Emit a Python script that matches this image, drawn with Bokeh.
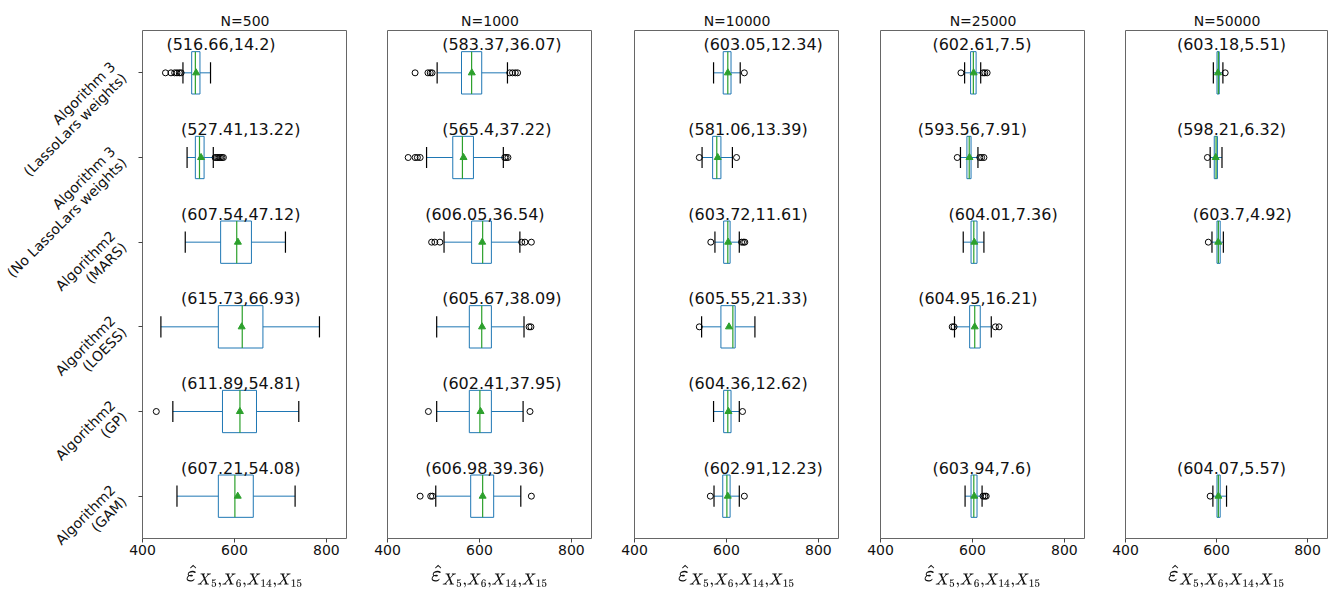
import math
from bokeh.plotting import figure
from bokeh.layouts import row
from bokeh.models import ColumnDataSource, Range1d, FixedTicker
from bokeh.embed import file_html
from bokeh.resources import INLINE
from bokeh.core.properties import value

# ---------------- data ----------------
categories = [
    "Algorithm 3\n(LassoLars weights)",
    "Algorithm 3\n(No LassoLars weights)",
    "Algorithm2\n(MARS)",
    "Algorithm2\n(LOESS)",
    "Algorithm2\n(GP)",
    "Algorithm2\n(GAM)",
]
sample_sizes = [500, 1000, 10000, 25000, 50000]
x_ticks = [400, 600, 800]

means = [
    [516.66, 527.41, 607.54, 615.73, 611.89, 607.21],
    [583.37, 565.4, 606.05, 605.67, 602.41, 606.98],
    [603.05, 581.06, 603.72, 605.55, 604.36, 602.91],
    [602.61, 593.56, 604.01, 604.95, None, 603.94],
    [603.18, 598.21, 603.7, None, None, 604.07],
]
stds = [
    [14.2, 13.22, 47.12, 66.93, 54.81, 54.08],
    [36.07, 37.22, 36.54, 38.09, 37.95, 39.36],
    [12.34, 13.39, 11.61, 21.33, 12.62, 12.23],
    [7.5, 7.91, 7.36, 16.21, None, 7.6],
    [5.51, 6.32, 4.92, None, None, 5.57],
]
whisker_low = [
    [488, 497, 493, 440, 466, 475],
    [508, 485, 523, 507, 507, 505],
    [572, 547, 575, 546, 572, 573],
    [583, 574, 580, 561, None, 584],
    [593, 586, 590, None, None, 592],
]
q1 = [
    [507, 515, 570, 565, 574, 565],
    [561, 542, 583, 578, 578, 581],
    [593, 570, 594, 588, 594, 592],
    [596, 588, 597, 594, None, 597],
    [601, 595, 601, None, None, 601],
]
median = [
    [515, 524, 605, 617, 612, 601],
    [583, 563, 607, 605, 601, 607],
    [603, 579, 603, 614, 603, 601],
    [602, 593, 603, 605, None, 603],
    [604, 599, 604, None, None, 604],
]
q3 = [
    [525, 534, 637, 662, 648, 641],
    [605, 587, 626, 626, 626, 631],
    [610, 588, 608, 619, 610, 608],
    [608, 597, 610, 617, None, 610],
    [606, 602, 608, None, None, 608],
]
whisker_high = [
    [548, 554, 711, 785, 740, 732],
    [661, 652, 688, 697, 695, 690],
    [630, 613, 628, 662, 628, 628],
    [618, 612, 625, 641, None, 621],
    [614, 612, 615, None, None, 622],
]
outliers = [
    [[450, 462, 470, 475, 480, 484], [558, 561, 564, 567, 570, 573, 576], [], [], [430], []],
    [[460, 488, 493, 497, 666, 672, 678, 683], [445, 460, 465, 471, 655, 658, 662],
     [496, 503, 514, 692, 699, 713], [708, 712], [489, 710], [471, 494, 498, 713]],
    [[639], [541, 622], [566, 633, 637, 640], [541], [635], [565, 639]],
    [[575, 623, 627, 632], [567, 616, 620, 625], [], [556, 560, 650, 658], [], [623, 627, 630]],
    [[619], [580], [582], [], [], [586]],
]

# ---------------- layout / style ----------------
label_left = [
    [452, 484, 484, 484, 484, 484],
    [519, 519, 482, 519, 519, 482],
    [550, 517, 517, 517, 517, 550],
    [513, 481, 548, 482, None, 513],
    [513, 513, 548, None, None, 513],
]
frame_lefts = [142, 387, 634, 880, 1125]
frame_w = 205
total_w = 1328
H = 601
TOP, BOTTOM = 30, 63
LABEL_W = 128       # category-label column; panel 1 keeps 14 px for its ticks and "400"
LABEL_GAP = 10
TICK_LEN = 4
X_RANGE = (400, 846)
BOX_C = "#1f77b4"
MED_C = "#2ca02c"
FONT = "DejaVu Sans"

n = len(categories)
ypos = [n - i - 0.5 for i in range(n)]

# --- category label column (same vertical scale as the panels) ---
px_per_unit = (H - TOP - BOTTOM) / n
lab = figure(width=LABEL_W, height=H, x_range=Range1d(0, LABEL_W),
             y_range=Range1d(-BOTTOM / px_per_unit, n + TOP / px_per_unit),
             output_backend="svg", toolbar_location=None, title=None,
             x_axis_location=None, y_axis_location=None,
             min_border_left=0, min_border_right=0, min_border_top=0, min_border_bottom=0)
try:
    lab.frame_align = False
except Exception:
    pass
lab.grid.visible = False
lab.outline_line_color = None
lab.background_fill_color = "white"
lab.border_fill_color = "white"
lab.text(x=[LABEL_W] * n, y=ypos, text=categories, x_offset=-LABEL_GAP, y_offset=-3,
         angle=math.pi / 4, text_align="right", text_baseline="middle",
         text_font=value(FONT), text_font_size="14px", text_color="#111111",
         text_line_height=1.0)

figs = [lab]
prev_end = LABEL_W
for k, N in enumerate(sample_sizes):
    lb = frame_lefts[k] - prev_end
    fw = frame_w if k < len(sample_sizes) - 1 else total_w - frame_lefts[k]
    w = lb + fw
    prev_end += w
    p = figure(width=w, height=H, x_range=Range1d(*X_RANGE), y_range=Range1d(0, n),
               output_backend="svg", toolbar_location=None, title=f"N={N}",
               min_border_left=lb, min_border_right=0, min_border_top=TOP,
               min_border_bottom=BOTTOM)
    p.title.align = "center"
    p.title.text_font = FONT
    p.title.text_font_size = "14px"
    p.title.text_font_style = "normal"
    p.title.text_color = "#111111"
    p.title.standoff = 4
    p.outline_line_color = "#666666"
    p.xgrid.visible = False
    p.ygrid.visible = False
    p.background_fill_color = "white"
    p.border_fill_color = "white"

    xa = p.xaxis[0]
    xa.ticker = FixedTicker(ticks=x_ticks)
    xa.major_label_text_font = FONT
    xa.major_label_text_font_size = "14px"
    xa.major_label_text_color = "#111111"
    xa.major_tick_out = TICK_LEN
    xa.major_tick_in = 0
    xa.minor_tick_line_color = None
    xa.axis_line_color = None
    xa.major_tick_line_color = "#444444"
    xa.major_label_standoff = 2
    xa.axis_label = r"$$\hat{\varepsilon}_{X_5, X_6, X_{14}, X_{15}}$$"
    xa.axis_label_text_font_size = "18px"
    xa.axis_label_text_color = "#111111"
    xa.axis_label_standoff = 5

    ya = p.yaxis[0]
    if k == 0:
        ya.ticker = FixedTicker(ticks=ypos)
        ya.major_label_overrides = {y: "" for y in ypos}
        ya.major_label_text_font_size = "0px"
        ya.major_label_standoff = 0
        ya.major_tick_out = TICK_LEN
        ya.major_tick_in = 0
        ya.minor_tick_line_color = None
        ya.axis_line_color = None
        ya.major_tick_line_color = "#444444"
    else:
        ya.visible = False

    rows = [i for i in range(n) if means[k][i] is not None]
    src = ColumnDataSource(dict(
        y=[ypos[i] for i in rows],
        yb=[ypos[i] - 0.25 for i in rows],
        yt=[ypos[i] + 0.25 for i in rows],
        cb=[ypos[i] - 0.125 for i in rows],
        ct=[ypos[i] + 0.125 for i in rows],
        low=[whisker_low[k][i] for i in rows],
        q1=[q1[k][i] for i in rows],
        med=[median[k][i] for i in rows],
        q3=[q3[k][i] for i in rows],
        high=[whisker_high[k][i] for i in rows],
        mean=[means[k][i] for i in rows],
        label=[f"({means[k][i]},{stds[k][i]})" for i in rows],
        lx=[label_left[k][i] for i in rows],
        ly=[ypos[i] + 0.33 for i in rows],
    ))
    fx, fy = [], []
    for i in rows:
        for v in outliers[k][i]:
            fx.append(v)
            fy.append(ypos[i])
    fsrc = ColumnDataSource(dict(x=fx, y=fy))

    p.segment(x0="low", y0="y", x1="q1", y1="y", source=src, line_color=BOX_C, line_width=1)
    p.segment(x0="q3", y0="y", x1="high", y1="y", source=src, line_color=BOX_C, line_width=1)
    p.segment(x0="low", y0="cb", x1="low", y1="ct", source=src, line_color="black", line_width=1.2)
    p.segment(x0="high", y0="cb", x1="high", y1="ct", source=src, line_color="black", line_width=1.2)
    p.hbar(y="y", left="q1", right="q3", height=0.5, source=src,
           fill_color=None, line_color=BOX_C, line_width=1)
    p.segment(x0="med", y0="yb", x1="med", y1="yt", source=src, line_color=MED_C, line_width=1.2)
    p.scatter(x="mean", y="y", source=src, marker="triangle", size=7,
              fill_color=MED_C, line_color=MED_C)
    p.scatter(x="x", y="y", source=fsrc, marker="circle", size=6,
              fill_color=None, line_color="black", line_width=1)
    p.text(x="lx", y="ly", text="label", source=src, text_font=value(FONT),
           text_font_size="16px", text_align="left", text_baseline="alphabetic",
           text_color="#111111")
    figs.append(p)

layout = row(*figs, spacing=0)
open("out.html", "w").write(file_html(layout, INLINE))
